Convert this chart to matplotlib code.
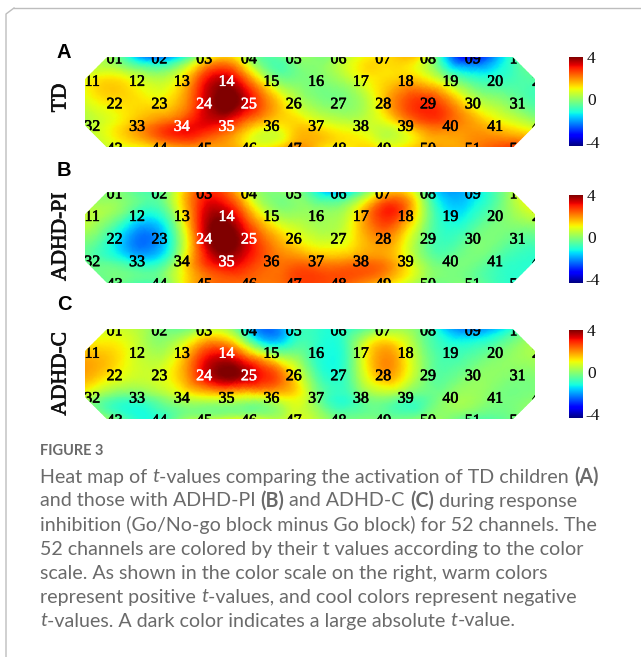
import matplotlib
matplotlib.use("Agg")
import matplotlib.pyplot as plt
import matplotlib.patheffects as pe
import matplotlib.tri as mtri
import numpy as np
from matplotlib.patches import Polygon

W, H = 641, 657

# t values per channel, row by row (01-10, 11-21, 22-31, 32-42, 43-52)
td = [0.5, -2.1, 0.3, 0.8, 0.0, 0.2, 1.3, 1.2, -3.0, -0.6,
      1.0, 1.1, 1.0, 3.6, 0.9, 0.0, 0.8, 1.6, 0.5, -0.7, -0.4,
      1.3, 1.3, 2.9, 3.7, 1.1, 0.0, 1.2, 2.9, 1.2, 0.0,
      0.5, 1.6, 2.8, 3.1, 1.4, 1.4, 0.8, 1.4, 2.4, 1.6, 0.6,
      0.8, 1.4, 2.0, 1.6, 1.9, 1.2, 1.3, 1.8, 2.0, 2.8]
adhd_pi = [0.1, -0.5, 2.6, 1.3, 0.2, -1.5, 1.0, 0.0, -1.5, 0.5,
           0.7, -0.5, 0.4, 3.8, 1.0, 0.3, 1.2, 2.6, -1.0, -0.3, 0.8,
           -0.6, -2.0, 2.6, 3.6, 1.4, 0.7, 2.1, 0.1, -0.3, -0.2,
           -0.2, -1.0, 0.2, 3.5, 2.5, 2.1, 2.1, 1.5, -0.2, -0.3, -0.8,
           -0.2, -0.5, 2.0, 2.4, 2.5, 2.6, 1.8, 0.2, 0.0, -0.8]
adhd_c = [0.8, 0.2, 0.3, -0.7, -1.3, -0.9, 0.1, -0.2, -2.0, -0.8,
          1.6, 1.0, 0.9, 3.0, 0.4, -0.5, 0.2, 1.5, -0.6, -0.2, 0.5,
          1.4, 0.8, 2.8, 3.8, 1.8, -0.9, 1.7, 0.2, 0.0, 0.1,
          0.7, -0.3, 0.6, 1.2, 1.1, 0.5, -0.4, 0.0, 0.1, 0.1, 0.1,
          0.3, -0.9, 0.5, 1.0, 0.8, 0.1, 0.0, 0.2, -0.3, -0.1]

panels = ["A", "B", "C"]
groups = ["TD", "ADHD-PI", "ADHD-C"]
white_labels = [[14, 24, 25, 34, 35], [14, 24, 25, 35], [14, 24, 25]]
cbar_ticks = [4, 0, -4]

# pixel layout: top, bottom of map / top, bottom of colorbar / panel letter y / group label y
map_boxes = [(57.3, 147.3), (192.3, 282.7), (329.3, 419)]
cbar_boxes = [(57, 145.7), (195, 282.7), (330, 417.7)]
letter_y = [53, 171, 305]
group_y = [98, 237, 374]
map_left, map_right = 85, 535
cbar_left, cbar_right = 569, 583

caption_font = "Lato"
caption_color = "#6a6a6a"
caption = [
    [("Heat map of ", "normal", "normal"), ("t", "italic", "normal"), ("-values comparing the activation of TD children ", "normal", "normal"), ("(A)", "normal", "bold")],
    [("and those with ADHD-PI ", "normal", "normal"), ("(B)", "normal", "bold"), (" and ADHD-C ", "normal", "normal"), ("(C)", "normal", "bold"), (" during response", "normal", "normal")],
    [("inhibition (Go/No-go block minus Go block) for 52 channels. The", "normal", "normal")],
    [("52 channels are colored by their t values according to the color", "normal", "normal")],
    [("scale. As shown in the color scale on the right, warm colors", "normal", "normal")],
    [("represent positive ", "normal", "normal"), ("t", "italic", "normal"), ("-values, and cool colors represent negative", "normal", "normal")],
    [("t", "italic", "normal"), ("-values. A dark color indicates a large absolute ", "normal", "normal"), ("t", "italic", "normal"), ("-value.", "normal", "normal")],
]


def px_axes(fig, left, right, top, bottom):
    return fig.add_axes([left / W, 1 - bottom / H, (right - left) / W, (bottom - top) / H])


# channel grid: 5 staggered rows on half-column steps
xs, ys = [], []
for row, (start, n) in enumerate([(1, 10), (0, 11), (1, 10), (0, 11), (1, 10)]):
    for i in range(n):
        xs.append(start + 2 * i)
        ys.append(row)
xs = np.array(xs, dtype=float)
ys = np.array(ys, dtype=float)
outline = [(1, 0), (19, 0), (20, 1), (20, 3), (19, 4), (1, 4), (0, 3), (0, 1)]

fig = plt.figure(figsize=(W / 100, H / 100), dpi=100)
bg = fig.add_axes([0, 0, 1, 1])
bg.set_xlim(0, W)
bg.set_ylim(H, 0)
bg.axis("off")

# card border
bg.plot([6, 6, 14], [657, 14, 8], color="#bdbdbd", lw=1)
bg.plot([14, 641], [8, 8], color="#bdbdbd", lw=1)

tri = mtri.Triangulation(xs, ys)
refiner = mtri.UniformTriRefiner(tri)

for k, values in enumerate([td, adhd_pi, adhd_c]):
    top, bottom = map_boxes[k]
    ax = px_axes(fig, map_left, map_right, top, bottom)
    fine_tri, fine_z = refiner.refine_field(np.array(values), subdiv=4)
    ax.tripcolor(fine_tri, np.clip(fine_z, -4, 4), cmap="jet", vmin=-4, vmax=4, shading="gouraud")
    ax.set_xlim(0, 20)
    ax.set_ylim(4, 0)
    ax.axis("off")
    clip = Polygon(outline, transform=ax.transData, fill=False, edgecolor="none")
    ax.add_patch(clip)
    for n, (x, y) in enumerate(zip(xs, ys), start=1):
        col = "white" if n in white_labels[k] else "black"
        t = ax.text(0.32 + x * 0.995, y + 0.09, f"{n:02d}", ha="center", va="center",
                    family="Liberation Serif", fontsize=11.5, color=col, clip_on=True)
        # the reference digits are a bit heavier than the regular weight
        t.set_path_effects([pe.withStroke(linewidth=0.4, foreground=col)])
        t.set_clip_path(clip)

    ctop, cbottom = cbar_boxes[k]
    cax = px_axes(fig, cbar_left, cbar_right, ctop, cbottom)
    cax.imshow(np.linspace(4, -4, 256).reshape(-1, 1), cmap="jet", vmin=-4, vmax=4,
               aspect="auto", extent=[0, 1, -4, 4])
    cax.axis("off")
    for tick in cbar_ticks:
        frac = (4 - tick) / 8
        # ticks sit slightly inside the bar ends
        y_px = ctop + 2 + frac * (cbottom - ctop - 4)
        bg.text(585 if tick < 0 else 587, y_px, str(tick), ha="left", va="center",
                family="Liberation Serif", fontsize=12.5, color="#111111")

    bg.text(64, letter_y[k], panels[k], ha="center", va="center",
            family="Liberation Sans", fontweight="bold", fontsize=14.5, color="black")
    g = bg.text(61, group_y[k], groups[k], ha="center", va="center", rotation=90,
                family="Liberation Serif", fontsize=15.5, color="#111111")
    g.set_path_effects([pe.withStroke(linewidth=0.5, foreground="#111111")])

bg.text(40, 451, "FIGURE 3", family=caption_font, fontsize=10.5, fontweight="bold",
        color=caption_color, va="center")

fig.canvas.draw()
renderer = fig.canvas.get_renderer()
for i, line in enumerate(caption):
    x = 40.0
    y = 477 + i * 24
    for chunk, style, weight in line:
        t = bg.text(x, y, chunk, family=caption_font, fontsize=14.1, style=style, weight=weight,
                    color=caption_color, va="center", ha="left")
        x += t.get_window_extent(renderer).width

fig.savefig("out.png", dpi=100)
